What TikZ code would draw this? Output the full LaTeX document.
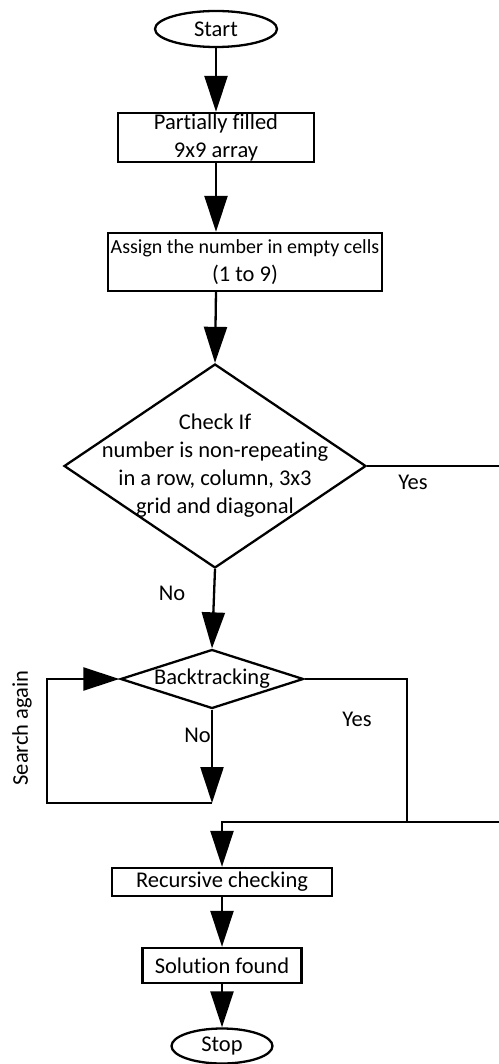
\documentclass[tikz,border=0pt]{standalone}
\usepackage{fontspec}
\setmainfont{Carlito}[Ligatures=NoCommon]
\usetikzlibrary{arrows.meta,shapes.geometric}

\begin{document}
\begin{tikzpicture}[x=1pt,y=-1pt,font=\fontsize{22.5}{28}\selectfont]
			\tikzstyle{BoxStyle}      = [shape=rectangle, draw, line width=2.3pt, inner sep=0pt, align=center]
			\tikzstyle{TermStyle}     = [shape=ellipse, draw, line width=2.3pt, inner sep=0pt]
			\tikzstyle{DecisionStyle} = [shape=diamond, draw, line width=2.3pt, inner sep=0pt]
			\tikzstyle{EdgeStyle}     = [-{Triangle[length=36pt,width=23pt]}, line width=2.3pt]
			\tikzstyle{LineStyle}     = [line width=2.3pt]
			\tikzstyle{LabelStyle}    = [inner sep=0pt]

			\useasboundingbox (0,0) rectangle (498,1064);

			\node[TermStyle, minimum width=122pt, minimum height=36pt] (Start) at (216,29) {Start};
			\node[BoxStyle, minimum width=196pt, minimum height=49pt] (Array) at (216,137.5) {Partially filled\\9x9 array};
			\node[BoxStyle, minimum width=274pt, minimum height=58pt] (Assign) at (245,262) {{\fontsize{20}{28}\selectfont Assign the number in empty cells}\\(1 to 9)};
			\node[DecisionStyle, minimum width=302pt, minimum height=204pt,
				label={[align=center]center:Check If\\number is non-repeating\\in a row, column, 3x3\\grid and diagonal}] (Check) at (215,466) {};
			\node[DecisionStyle, minimum width=183pt, minimum height=59pt,
				label={center:Backtracking}] (Backtracking) at (212,679) {};
			\node[BoxStyle, minimum width=220pt, minimum height=28pt] (Recursive) at (222,882) {Recursive checking};
			\node[BoxStyle, minimum width=159pt, minimum height=35pt] (Solution) at (222,965.5) {Solution found};
			\node[TermStyle, minimum width=101pt, minimum height=35pt] (Stop) at (222,1046) {Stop};

			\coordinate (NoEnd) at (212,803);
			\coordinate (LoopCorner) at (47,803);
			\coordinate (Join) at (407,822);
			\coordinate (Edge) at (500,822);
			\coordinate (Merge) at (222,822);

			\draw[EdgeStyle] (Start) -- (Array);
			\draw[EdgeStyle] (Array) -- (Array.south |- Assign.north);
			\draw[EdgeStyle] (216,291) -- (Check.north);
			\draw[EdgeStyle] (Check.south) -- (Backtracking.north);
			\draw[EdgeStyle] (Backtracking.south) -- (NoEnd);
			\draw[EdgeStyle] (NoEnd) -- (LoopCorner) |- (Backtracking.west);
			\draw[LineStyle] (Backtracking.east) -| (Join);
			\draw[EdgeStyle] (Check.east) -| (Edge) -- (Merge) -- (Recursive.north);
			\draw[EdgeStyle] (Recursive) -- (Solution);
			\draw[EdgeStyle] (Solution) -- (Stop);

			\node[LabelStyle] (CheckYes) at (413,482) {Yes};
			\node[LabelStyle] (CheckNo) at (172,593) {No};
			\node[LabelStyle] (BackYes) at (357,719) {Yes};
			\node[LabelStyle, anchor=east] (BackNo) at (211,735) {No};
			\node[LabelStyle, rotate=90] (Search) at (22,728) {Search again};
		\end{tikzpicture}
\end{document}
